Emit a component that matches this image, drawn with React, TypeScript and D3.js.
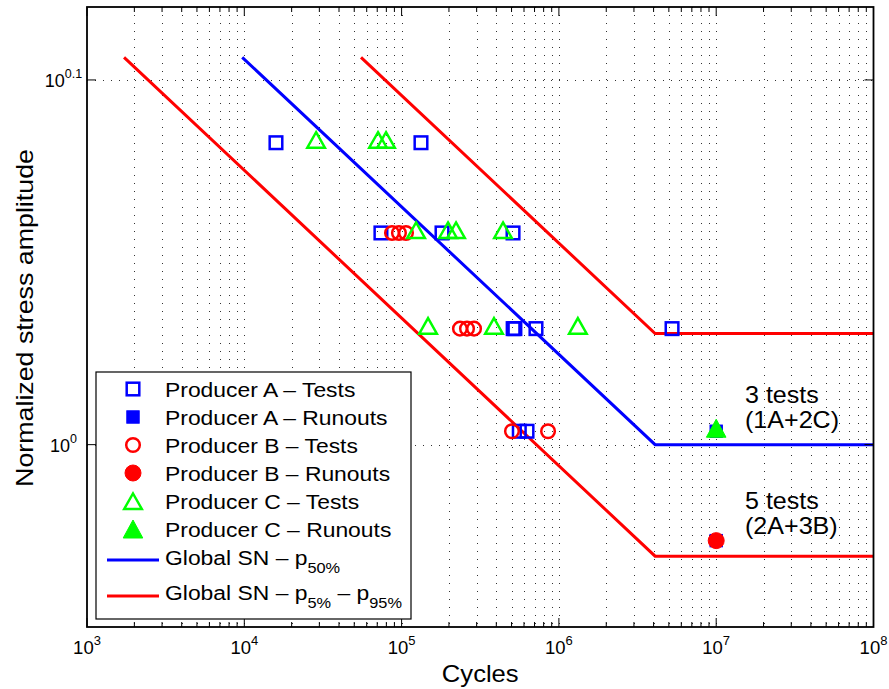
import React from 'react';
import * as d3 from 'd3';

// ---------- data ----------
const xDecades = [3, 4, 5, 6, 7, 8];
const yTickExps = [0, 0.1];
const yTickLabels = ['0', '0.1'];

// [cycles, normalized stress]
const producerATests: [number, number][] = [
  [15900, 1.21], [132800, 1.21],
  [73900, 1.143], [180700, 1.143], [511000, 1.143],
  [512000, 1.076], [525000, 1.076], [715000, 1.076], [5.24e6, 1.076],
  [560000, 1.0085], [627000, 1.0085],
];
const producerARunouts: [number, number][] = [[1e7, 1.0085], [1e7, 0.9412]];
const producerBTests: [number, number][] = [
  [86900, 1.143], [96200, 1.143], [106600, 1.143],
  [235000, 1.076], [260500, 1.076], [288700, 1.076],
  [503000, 1.0085], [853000, 1.0085],
];
const producerBRunouts: [number, number][] = [[1e7, 0.9412]];
const producerCTests: [number, number][] = [
  [28600, 1.21], [70800, 1.21], [79600, 1.21],
  [123600, 1.143], [197300, 1.143], [221800, 1.143], [441300, 1.143],
  [147300, 1.076], [386700, 1.076], [1.32e6, 1.076],
];
const producerCRunouts: [number, number][] = [[1e7, 1.0085]];

const snP50: [number, number][] = [[9700, 1.277], [4.09e6, 1.0], [1e8, 1.0]];
const snP05: [number, number][] = [[1720, 1.277], [4.09e6, 0.932], [1e8, 0.932]];
const snP95: [number, number][] = [[55200, 1.277], [4.09e6, 1.0727], [1e8, 1.0727]];

const legendLabels = [
  'Producer A \u2013 Tests',
  'Producer A \u2013 Runouts',
  'Producer B \u2013 Tests',
  'Producer B \u2013 Runouts',
  'Producer C \u2013 Tests',
  'Producer C \u2013 Runouts',
];

// ---------- layout ----------
const W = 889, H = 689;
const L = 87, R = 873.5, T = 7, B = 627;
const FONT = "'Liberation Sans', Arial, Helvetica, sans-serif";
const SX = 1.09;

const BLUE = '#0000ff', RED = '#ff0000', GREEN = '#00ff00';

type MType = 'square' | 'circle' | 'triangle';

function Marker({ x, y, type, color, filled }: { x: number; y: number; type: MType; color: string; filled: boolean }) {
  const fill = filled ? color : 'none';
  const sw = filled ? 1 : 2.5;
  if (type === 'square') {
    const h = filled ? 6.2 : 6.3;
    return <rect x={x - h} y={y - h} width={2 * h} height={2 * h} fill={fill} stroke={color} strokeWidth={sw} />;
  }
  if (type === 'circle') {
    const r = filled ? 8 : 6.8;
    return <circle cx={x} cy={y} r={r} fill={fill} stroke={color} strokeWidth={sw} />;
  }
  const p = filled
    ? `M${x},${y - 12}L${x + 9.8},${y + 6}L${x - 9.8},${y + 6}Z`
    : `M${x},${y - 10.5}L${x + 8.8},${y + 5}L${x - 8.8},${y + 5}Z`;
  return <path d={p} fill={fill} stroke={color} strokeWidth={sw} strokeLinejoin="miter" />;
}

export default function App() {
  const x = d3.scaleLog().domain([1e3, 1e8]).range([L, R]);
  const y = d3.scaleLog().domain([Math.pow(10, -0.05), Math.pow(10, 0.12)]).range([B, T]);
  const line = d3.line<[number, number]>().x(d => x(d[0])).y(d => y(d[1]));

  const minorX: number[] = [];
  for (let e = 3; e < 8; e++) for (let k = 2; k <= 9; k++) minorX.push(k * Math.pow(10, e));
  const majorX = xDecades.map(e => Math.pow(10, e));
  const yTicks = yTickExps.map(e => Math.pow(10, e));

  const series: { data: [number, number][]; type: MType; color: string; filled: boolean }[] = [
    { data: producerATests, type: 'square', color: BLUE, filled: false },
    { data: producerARunouts, type: 'square', color: BLUE, filled: true },
    { data: producerBTests, type: 'circle', color: RED, filled: false },
    { data: producerBRunouts, type: 'circle', color: RED, filled: true },
    { data: producerCTests, type: 'triangle', color: GREEN, filled: false },
    { data: producerCRunouts, type: 'triangle', color: GREEN, filled: true },
  ];

  const legX = 96, legY = 372, legW = 315, legH = 247;
  const rowY = [389, 417, 445, 473, 501, 529, 558, 593];

  return (
    <svg width={W} height={H} style={{ position: 'absolute', left: 0, top: 0, background: '#fff' }} fontFamily={FONT}>
      <rect x={0} y={0} width={W} height={H} fill="#fff" />
      {/* grid */}
      <g stroke="#333" strokeWidth={1} strokeDasharray="1,7">
        {[...minorX, ...majorX.slice(1, -1)].map((v, i) => (
          <line key={'gx' + i} x1={Math.round(x(v)) + 0.5} x2={Math.round(x(v)) + 0.5} y1={T} y2={B} />
        ))}
        {yTicks.map((v, i) => (
          <line key={'gy' + i} x1={L} x2={R} y1={Math.round(y(v)) + 0.5} y2={Math.round(y(v)) + 0.5} />
        ))}
      </g>
      {/* SN curves */}
      <path d={line(snP05) || ''} fill="none" stroke={RED} strokeWidth={3} />
      <path d={line(snP95) || ''} fill="none" stroke={RED} strokeWidth={3} />
      <path d={line(snP50) || ''} fill="none" stroke={BLUE} strokeWidth={3} />
      {/* data markers */}
      {series.map((s, si) => (
        <g key={'s' + si}>
          {s.data.map((d, i) => (
            <Marker key={i} x={x(d[0])} y={y(d[1])} type={s.type} color={s.color} filled={s.filled} />
          ))}
        </g>
      ))}
      {/* axes box */}
      <rect x={L} y={T} width={R - L} height={B - T} fill="none" stroke="#000" strokeWidth={1.8} />
      {/* ticks */}
      <g stroke="#000" strokeWidth={1}>
        {minorX.map((v, i) => (
          <g key={'tm' + i}>
            <line x1={x(v)} x2={x(v)} y1={B} y2={B - 5} />
            <line x1={x(v)} x2={x(v)} y1={T} y2={T + 5} />
          </g>
        ))}
        {majorX.map((v, i) => (
          <g key={'tM' + i}>
            <line x1={x(v)} x2={x(v)} y1={B} y2={B - 9} />
            <line x1={x(v)} x2={x(v)} y1={T} y2={T + 9} />
          </g>
        ))}
        {yTicks.map((v, i) => (
          <g key={'ty' + i}>
            <line x1={L} x2={L + 9} y1={y(v)} y2={y(v)} />
            <line x1={R} x2={R - 9} y1={y(v)} y2={y(v)} />
          </g>
        ))}
      </g>
      {/* x tick labels */}
      {xDecades.map((e, i) => (
        <text key={'xl' + i} transform={`translate(${x(Math.pow(10, e))},654)`} fontSize={18.5} textAnchor="middle" fill="#000">
          10<tspan fontSize={13} dy={-9}>{e}</tspan>
        </text>
      ))}
      {/* y tick labels */}
      {yTicks.map((v, i) => (
        <text key={'yl' + i} transform={`translate(63.5,${y(v) + 7})`} fontSize={18} textAnchor="middle" fill="#000">
          10<tspan fontSize={12.5} dy={-9}>{yTickLabels[i]}</tspan>
        </text>
      ))}
      {/* axis labels */}
      <text transform={`translate(${(L + R) / 2},682) scale(${SX},1)`} fontSize={23.5} textAnchor="middle" fill="#000">Cycles</text>
      <text transform={`translate(33,318) rotate(-90) scale(1.14,1)`} fontSize={23.5} textAnchor="middle" fill="#000">Normalized stress amplitude</text>
      {/* annotations */}
      <text transform={`translate(745,403) scale(${SX},1)`} fontSize={23} fill="#000">3 tests</text>
      <text transform={`translate(745,428) scale(${SX},1)`} fontSize={23} fill="#000">(1A+2C)</text>
      <text transform={`translate(745,509) scale(${SX},1)`} fontSize={23} fill="#000">5 tests</text>
      <text transform={`translate(745,534) scale(${SX},1)`} fontSize={23} fill="#000">(2A+3B)</text>
      {/* legend */}
      <rect x={legX} y={legY} width={legW} height={legH} fill="#fff" stroke="#000" strokeWidth={1.2} />
      {series.map((s, i) => (
        <g key={'lg' + i}>
          <Marker x={133} y={rowY[i] + (s.type === 'triangle' ? 3 : 0)} type={s.type} color={s.color} filled={s.filled} />
          <text transform={`translate(165,${rowY[i] + 8}) scale(${SX},1)`} fontSize={21} fill="#000">{legendLabels[i]}</text>
        </g>
      ))}
      <line x1={107} x2={159} y1={rowY[6] + 2} y2={rowY[6] + 2} stroke={BLUE} strokeWidth={3} />
      <text transform={`translate(165,${rowY[6] + 7}) scale(${SX},1)`} fontSize={21} fill="#000">
        Global SN {'\u2013'} p<tspan fontSize={15} dy={8}>50%</tspan>
      </text>
      <line x1={107} x2={159} y1={rowY[7] + 3} y2={rowY[7] + 3} stroke={RED} strokeWidth={3} />
      <text transform={`translate(165,${rowY[7] + 7}) scale(${SX},1)`} fontSize={21} fill="#000">
        Global SN {'\u2013'} p<tspan fontSize={15} dy={8}>5%</tspan><tspan dy={-8}> {'\u2013'} p</tspan><tspan fontSize={15} dy={8}>95%</tspan>
      </text>
    </svg>
  );
}
